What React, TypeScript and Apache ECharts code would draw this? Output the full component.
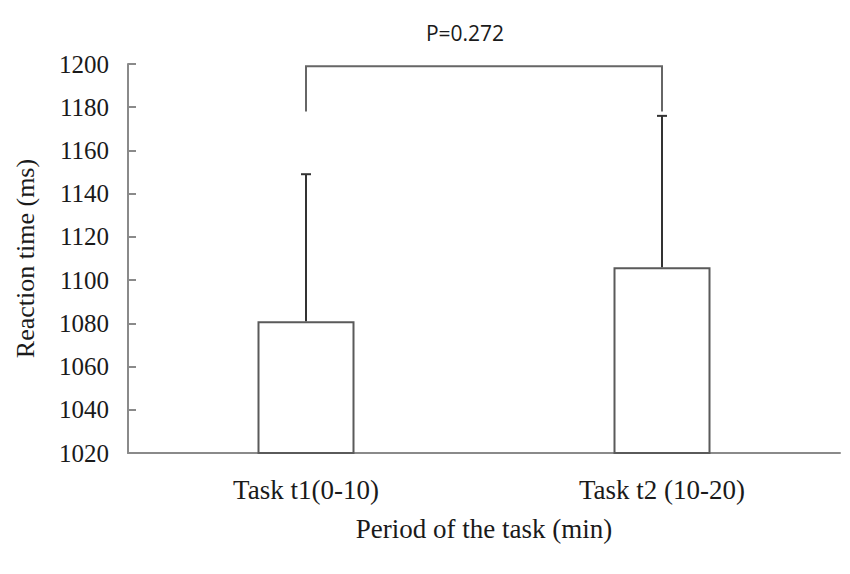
import React, { useEffect, useRef } from "react";
import * as echarts from "echarts";

const categories = ["Task t1(0-10)", "Task t2 (10-20)"];
const meanValues = [1081, 1106];
const upperErrorValues = [1149, 1176];
const yTicks = { min: 1020, max: 1200, interval: 20 };
const bracketRange = [1178, 1199];
const pLabel = "P=0.272";

export default function App() {
  const ref = useRef<HTMLDivElement>(null);
  useEffect(() => {
    if (!ref.current) return;
    const chart = echarts.init(ref.current, null, { renderer: "svg" });
    const serif = "Liberation Serif";
    const errorData = categories.map((_, i) => [i, meanValues[i], upperErrorValues[i]]);
    chart.setOption({
      animation: false,
      backgroundColor: "#ffffff",
      grid: { left: 128, right: 10, top: 64, bottom: 121 },
      xAxis: {
        type: "category",
        data: categories,
        boundaryGap: true,
        name: "Period of the task (min)",
        nameLocation: "middle",
        nameGap: 62,
        nameTextStyle: { fontFamily: serif, fontSize: 27, color: "#1a1a1a" },
        axisLine: { lineStyle: { color: "#8a8a8a", width: 2 } },
        axisTick: { inside: true, length: 6, lineStyle: { color: "#8a8a8a", width: 2 } },
        axisLabel: { fontFamily: serif, fontSize: 27, color: "#1a1a1a", margin: 23 },
        splitLine: { show: false },
      },
      yAxis: {
        type: "value",
        min: yTicks.min,
        max: yTicks.max,
        interval: yTicks.interval,
        name: "Reaction time (ms)",
        nameLocation: "middle",
        nameGap: 90,
        nameTextStyle: { fontFamily: serif, fontSize: 26, color: "#1a1a1a" },
        axisLine: { show: true, lineStyle: { color: "#8a8a8a", width: 2 } },
        axisTick: { show: true, inside: true, length: 8, lineStyle: { color: "#8a8a8a", width: 2 } },
        axisLabel: {
          fontFamily: serif,
          fontSize: 25,
          color: "#1a1a1a",
          margin: 19,
          formatter: (v: number) => String(v),
        },
        splitLine: { show: false },
      },
      series: [
        {
          type: "bar",
          data: meanValues,
          barWidth: 97,
          itemStyle: { color: "#ffffff", borderColor: "#5a5a5a", borderWidth: 2 },
          z: 2,
        },
        {
          type: "custom",
          data: errorData,
          z: 3,
          renderItem: (params: any, api: any) => {
            const x = api.value(0);
            const base = api.coord([x, api.value(1)]);
            const top = api.coord([x, api.value(2)]);
            const style = { stroke: "#333", lineWidth: 2 };
            return {
              type: "group",
              children: [
                { type: "line", shape: { x1: base[0], y1: base[1], x2: top[0], y2: top[1] }, style },
                { type: "line", shape: { x1: top[0] - 5, y1: top[1], x2: top[0] + 5, y2: top[1] }, style },
              ],
            };
          },
        },
        {
          type: "custom",
          data: [[0, 1, bracketRange[0], bracketRange[1]]],
          z: 3,
          renderItem: (params: any, api: any) => {
            const a = api.coord([api.value(0), api.value(2)]);
            const b = api.coord([api.value(0), api.value(3)]);
            const c = api.coord([api.value(1), api.value(3)]);
            const d = api.coord([api.value(1), api.value(2)]);
            return {
              type: "polyline",
              shape: { points: [a, b, c, d] },
              style: { stroke: "#666", lineWidth: 2, fill: "none" },
            };
          },
        },
      ],
      graphic: [
        {
          type: "text",
          x: 465,
          y: 33,
          style: {
            text: pLabel,
            fontFamily: "Open Sans",
            fontSize: 21,
            fill: "#1a1a1a",
            textAlign: "center",
            textVerticalAlign: "middle",
          },
        },
      ],
    });
    return () => chart.dispose();
  }, []);
  return (
    <div
      ref={ref}
      style={{ position: "fixed", left: 0, top: 0, width: 850, height: 574, background: "#fff" }}
    />
  );
}
